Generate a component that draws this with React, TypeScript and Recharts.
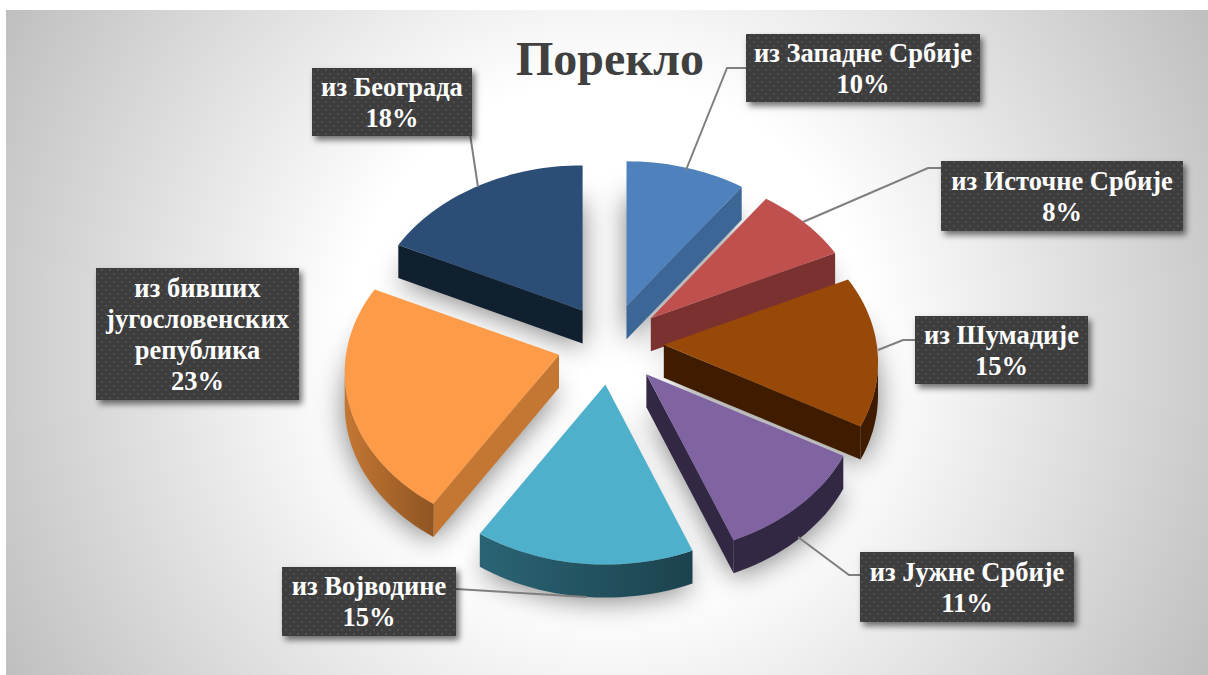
import React from 'react';
import { PieChart, Pie } from 'recharts';

const origins = [
  'из Западне Србије',
  'из Источне Србије',
  'из Шумадије',
  'из Јужне Србије',
  'из Војводине',
  'из бивших\nјугословенских\nрепублика',
  'из Београда',
];
const shares = [10, 8, 15, 11, 15, 23, 18];
const topColors = ['#4F81BD', '#C0504D', '#984807', '#8064A2', '#4FB0CB', '#FD9B49', '#2C4D75'];
const wallColors = ['#3B6695', '#7A3130', '#3F1C00', '#332844', '#1C424E', '#C47733', '#11202F'];
const arcFrom = ['#3B6695', '#7A3130', '#3F1C00', '#332844', '#2A6474', '#C47733', '#11202F'];
const arcTo = ['#3B6695', '#7A3130', '#3F1C00', '#332844', '#1C424E', '#8F5523', '#11202F'];

// label layout: box [x, y, w, h] and the leader line points
const labelBoxes = [
  [746, 34, 234, 68], [941, 161, 242, 70], [915, 316, 173, 68], [860, 552, 214, 70],
  [282, 567, 174, 69], [96, 268, 203, 132], [312, 68, 160, 68],
];
const leaderLines = [
  '746,68 727,68 686,170',
  '941,168 928,168 803,222',
  '915,340 903,340 878,350',
  '860,575 849,575 798,537',
  '456,589 587,597',
  '',
  '470,134 478,187',
];

const rows = origins.map((name, i) => ({ name, value: shares[i] }));

const W = 1208;
const H = 675;
const CX = 610.5;
const CY = 343.5;
const RADIUS = 213;
const SQUASH = 0.754;
const PERSPECTIVE = 0.1077;
const EXPLODE = 0.25;
const DEPTH = 33;

// disc point (u right, v away from viewer) to screen
function project(cx: number, cy: number, r: number, u: number, v: number) {
  const d = 1 + PERSPECTIVE * v;
  return { x: cx + (r * u) / d, y: cy - (r * SQUASH * v) / d };
}

function sliceOutline(p: any) {
  const start = 90 - p.startAngle;
  const end = 90 - p.endAngle;
  const mid = ((start + end) / 2) * (Math.PI / 180);
  const apex = project(p.cx, p.cy, p.outerRadius, EXPLODE * Math.sin(mid), EXPLODE * Math.cos(mid));
  const arc = [];
  const n = Math.max(4, Math.ceil((end - start) / 2));
  for (let i = 0; i <= n; i++) {
    const a = (start + ((end - start) * i) / n) * (Math.PI / 180);
    arc.push(project(apex.x, apex.y, p.outerRadius, Math.sin(a), Math.cos(a)));
  }
  return { apex, arc };
}

const toPath = (pts: { x: number; y: number }[]) =>
  pts.map((q, i) => `${i ? 'L' : 'M'}${q.x.toFixed(1)} ${q.y.toFixed(1)}`).join(' ') + ' Z';
const drop = (pts: { x: number; y: number }[]) => pts.map(q => ({ x: q.x, y: q.y + DEPTH }));

function ShadowShape(p: any) {
  const { apex, arc } = sliceOutline(p);
  const pts = [apex, ...arc].map(q => ({ x: q.x, y: q.y + DEPTH + 3 }));
  return <path d={toPath(pts)} fill="#000" fillOpacity={0.5} filter="url(#blurShadow)" />;
}

function SliceShape(p: any) {
  const i = p.index ?? origins.indexOf(p.name);
  const { apex, arc } = sliceOutline(p);
  const first = arc[0];
  const last = arc[arc.length - 1];
  const front = arc.filter((q, k) => (k > 0 && arc[k - 1].x > q.x) || (k < arc.length - 1 && q.x > arc[k + 1].x));
  const radial = [];
  if (first.x < apex.x) radial.push([apex, first]);
  if (last.x > apex.x) radial.push([last, apex]);
  const xs = front.map(q => q.x);
  return (
    <g>
      {radial.map((seg, k) => (
        <path key={k} d={toPath([seg[0], seg[1], ...drop([seg[1], seg[0]])])} fill={wallColors[i]} />
      ))}
      {front.length > 1 && (
        <>
          <linearGradient id={`arc${i}`} gradientUnits="userSpaceOnUse" x1={Math.min(...xs)} x2={Math.max(...xs)} y1={0} y2={0}>
            <stop offset="0%" stopColor={arcFrom[i]} />
            <stop offset="100%" stopColor={arcTo[i]} />
          </linearGradient>
          <path d={toPath([...front, ...drop(front).reverse()])} fill={`url(#arc${i})`} />
        </>
      )}
      <path d={toPath([apex, ...arc])} fill={topColors[i]} />
    </g>
  );
}

function SliceLabel(p: any) {
  const i = p.index;
  const [x, y, w, h] = labelBoxes[i];
  const lines = [...origins[i].split('\n'), `${shares[i]}%`];
  const lineH = 31;
  const top = y + h / 2 - ((lines.length - 1) * lineH) / 2 + 9;
  return (
    <g>
      {leaderLines[i] && <polyline points={leaderLines[i]} fill="none" stroke="#7F7F7F" strokeWidth={2} />}
      <rect x={x} y={y} width={w} height={h} fill="#3D3D3D" filter="url(#boxShadow)" />
      <rect x={x} y={y} width={w} height={h} fill="url(#dots)" />
      {lines.map((t, k) => (
        <text key={k} x={x + w / 2} y={top + k * lineH} textAnchor="middle" fill="#fff"
          fontFamily="'Liberation Serif', serif" fontWeight={700} fontSize={26.5}>
          {t}
        </text>
      ))}
    </g>
  );
}

export default function App() {
  return (
    <div style={{ position: 'absolute', left: 0, top: 0, width: W, height: H, overflow: 'hidden', background: '#fff' }}>
      <div style={{
        position: 'absolute', left: 6, top: 10, right: 0, bottom: 0,
        background: 'radial-gradient(circle 686px at 601px 332px, #ffffff 0%, #ffffff 38%, #bfbfbf 100%)',
      }} />
      <div style={{
        position: 'absolute', left: 410, width: 400, top: 31, textAlign: 'center', color: '#404040',
        fontFamily: "'Liberation Serif', serif", fontWeight: 700, fontSize: 48, lineHeight: '56px',
      }}>
        Порекло
      </div>
      <div style={{ position: 'absolute', left: 0, top: 0 }}>
        <PieChart width={W} height={H} margin={{ top: 0, right: 0, bottom: 0, left: 0 }}>
          <defs>
            <filter id="blurShadow" x="-30%" y="-30%" width="160%" height="160%">
              <feGaussianBlur stdDeviation="14" />
            </filter>
            <filter id="boxShadow" x="-10%" y="-20%" width="125%" height="150%">
              <feDropShadow dx="3" dy="4" stdDeviation="3" floodColor="#000" floodOpacity="0.55" />
            </filter>
            <pattern id="dots" width="8" height="8" patternUnits="userSpaceOnUse">
              <rect x="1" y="1" width="2" height="2" fill="#4F4F4F" />
              <rect x="5" y="5" width="2" height="2" fill="#4F4F4F" />
            </pattern>
            <clipPath id="shadowClip">
              <rect x="335" y="193" width="552" height="406" />
            </clipPath>
          </defs>
          <g clipPath="url(#shadowClip)">
            <Pie data={rows} dataKey="value" nameKey="name" cx={CX} cy={CY} outerRadius={RADIUS}
              startAngle={90} endAngle={-270} isAnimationActive={false} shape={ShadowShape} />
          </g>
          <Pie data={rows} dataKey="value" nameKey="name" cx={CX} cy={CY} outerRadius={RADIUS}
            startAngle={90} endAngle={-270} isAnimationActive={false} shape={SliceShape}
            label={SliceLabel} labelLine={false} />
        </PieChart>
      </div>
    </div>
  );
}
